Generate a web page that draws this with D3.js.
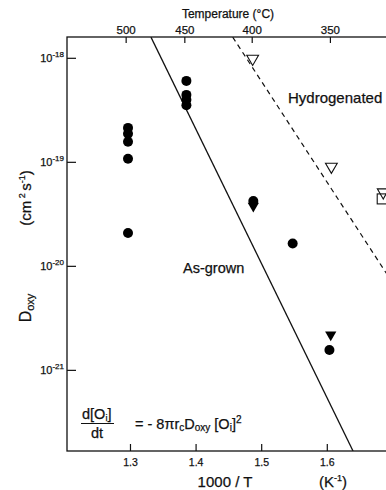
<!DOCTYPE html>
<html>
<head>
<meta charset="utf-8">
<script src="https://cdn.jsdelivr.net/npm/d3@7"></script>
<style>
  html, body { margin: 0; padding: 0; background: #fff; }
  svg { display: block; }
  text { font-family: "Liberation Sans", Arial, Helvetica, sans-serif; fill: #111; stroke: #111; stroke-width: 0.25px; }
</style>
</head>
<body>
<div id="chart"></div>
<script>
// tick labels
const xTicks = [1.3, 1.4, 1.5, 1.6];
const tempTicks = [500, 450, 400, 350];
const yExponents = [-21, -20, -19, -18];

// as-grown, filled circles (1000/T, D)
const circleX = [1.297, 1.297, 1.297, 1.297, 1.297, 1.386, 1.386, 1.386, 1.386, 1.488, 1.548, 1.604];
const circleD = [2.12e-19, 1.86e-19, 1.56e-19, 1.07e-19, 2.07e-20, 6.0e-19, 4.4e-19, 3.95e-19, 3.5e-19, 4.2e-20, 1.64e-20, 1.55e-21];

// filled triangles
const fTriX = [1.488, 1.606];
const fTriD = [3.77e-20, 2.17e-21];

// hydrogenated, open triangles
const oTriX = [1.487, 1.607, 1.686];
const oTriD = [9.8e-19, 9.0e-20, 5.1e-20];

// open square
const sqX = [1.686];
const sqD = [4.4e-20];

// fitted lines
const asGrownLine = [[1.332, 1.58e-18], [1.640, 1.66e-22]];
const hydroLine = [[1.4566, 1.58e-18], [1.70, 6.9e-21]];

const W = 386, H = 490;
const svg = d3.select('#chart').append('svg').attr('width', W).attr('height', H);

const mLeft = 67, mRight = 392.4, mTop = 37, mBottom = 451;
const x = d3.scaleLinear().domain([1.204, 1.7]).range([mLeft, mRight]);
const y = d3.scaleLog().domain([Math.pow(10, -21.78), Math.pow(10, -17.8)]).range([mBottom, mTop]);

svg.append('clipPath').attr('id', 'plot')
  .append('rect').attr('x', mLeft).attr('y', mTop).attr('width', mRight - mLeft).attr('height', mBottom - mTop);

// frame
svg.append('rect')
  .attr('x', mLeft).attr('y', mTop).attr('width', mRight - mLeft).attr('height', mBottom - mTop)
  .attr('fill', 'none').attr('stroke', '#111').attr('stroke-width', 1.3);

// bottom axis
const xAxis = svg.append('g').attr('transform', `translate(0,${mBottom})`)
  .call(d3.axisBottom(x).tickValues(xTicks).tickSize(-7).tickFormat(d3.format('.1f')));
xAxis.select('.domain').remove();
xAxis.selectAll('text').attr('dy', null).attr('y', 15).style('font-size', '10.5px').style('font-family', null);

// top axis, temperature
const topAxis = svg.append('g').attr('transform', `translate(0,${mTop})`)
  .call(d3.axisTop(x).tickValues(tempTicks.map(t => 1000 / (t + 273.15))).tickSize(-6)
    .tickFormat((d, i) => tempTicks[i]));
topAxis.select('.domain').remove();
topAxis.selectAll('text').attr('y', -3).style('font-size', '11.5px').style('font-family', null);

// left axis
const yAxis = svg.append('g').attr('transform', `translate(${mLeft},0)`)
  .call(d3.axisLeft(y).tickValues(yExponents.map(e => Math.pow(10, e))).tickSize(-9).tickFormat(''));
yAxis.select('.domain').remove();
yAxis.selectAll('.tick').each(function (d, i) {
  const t = d3.select(this).append('text')
    .attr('x', -3).attr('y', 4).attr('text-anchor', 'end').style('font-size', '11px');
  t.append('tspan').text('10');
  t.append('tspan').attr('dy', -5).style('font-size', '8px').text(yExponents[i]);
});
svg.selectAll('.tick line').attr('stroke', '#111').attr('stroke-width', 1.2);

// lines
const line = d3.line().x(d => x(d[0])).y(d => y(d[1]));
const lines = svg.append('g').attr('clip-path', 'url(#plot)');
lines.append('path').datum(asGrownLine).attr('d', line)
  .attr('fill', 'none').attr('stroke', '#111').attr('stroke-width', 1.3);
lines.append('path').datum(hydroLine).attr('d', line)
  .attr('fill', 'none').attr('stroke', '#111').attr('stroke-width', 1.2).attr('stroke-dasharray', '5,4');

// markers
const marks = svg.append('g');
const tri = d3.symbol().type(d3.symbolTriangle);
marks.selectAll('.fc').data(circleX).join('circle')
  .attr('cx', d => x(d)).attr('cy', (d, i) => y(circleD[i])).attr('r', 5).attr('fill', '#000');
marks.selectAll('.ft').data(fTriX).join('path')
  .attr('d', tri.size(55)())
  .attr('transform', (d, i) => `translate(${x(d)},${y(fTriD[i])}) rotate(180)`)
  .attr('fill', '#000');
const openMarks = svg.append('g').attr('clip-path', 'url(#plot)');
openMarks.selectAll('.ot').data(oTriX).join('path')
  .attr('d', tri.size(60)())
  .attr('transform', (d, i) => `translate(${x(d)},${y(oTriD[i])}) rotate(180)`)
  .attr('fill', '#fff').attr('stroke', '#111').attr('stroke-width', 1.1);
openMarks.selectAll('.sq').data(sqX).join('rect')
  .attr('x', d => x(d) - 6).attr('y', (d, i) => y(sqD[i]) - 5).attr('width', 12).attr('height', 10)
  .attr('fill', 'none').attr('stroke', '#111').attr('stroke-width', 1.1);

// labels
svg.append('text').attr('x', 228).attr('y', 18).attr('text-anchor', 'middle')
  .style('font-size', '12px').text('Temperature (°C)');
svg.append('text').attr('x', 288).attr('y', 103).style('font-size', '15px').text('Hydrogenated');
svg.append('text').attr('x', 183).attr('y', 273).style('font-size', '14.5px').text('As-grown');

svg.append('text').attr('x', 225).attr('y', 487).attr('text-anchor', 'middle')
  .style('font-size', '15px').text('1000 / T');
const kl = svg.append('text').attr('x', 333).attr('y', 487).attr('text-anchor', 'middle').style('font-size', '15px');
kl.append('tspan').text('(K');
kl.append('tspan').attr('dy', -6).style('font-size', '9px').text('-1');
kl.append('tspan').attr('dy', 6).text(')');

// y label
const yl = svg.append('text').attr('transform', 'translate(31,198) rotate(-90)')
  .attr('text-anchor', 'middle').style('font-size', '15px');
yl.append('tspan').text('(cm');
yl.append('tspan').attr('dy', -6).style('font-size', '9px').text(' 2 ');
yl.append('tspan').attr('dy', 6).text('s');
yl.append('tspan').attr('dy', -6).style('font-size', '9px').text('-1');
yl.append('tspan').attr('dy', 6).text(')');
const dl = svg.append('text').attr('transform', 'translate(31,308) rotate(-90)')
  .attr('text-anchor', 'middle').style('font-size', '16px');
dl.append('tspan').text('D');
dl.append('tspan').attr('dy', 3).style('font-size', '11px').text('oxy');

// equation
const eq = svg.append('g').style('font-size', '14.5px');
const num = eq.append('text').attr('x', 82).attr('y', 419);
num.append('tspan').text('d[O');
num.append('tspan').attr('dy', 2).style('font-size', '9px').text('i');
num.append('tspan').attr('dy', -2).text(']');
eq.append('line').attr('x1', 81).attr('x2', 114).attr('y1', 423.5).attr('y2', 423.5)
  .attr('stroke', '#111').attr('stroke-width', 1.2);
eq.append('text').attr('x', 97).attr('y', 438).attr('text-anchor', 'middle').text('dt');
const rhs = eq.append('text').attr('x', 135).attr('y', 429);
rhs.append('tspan').text('= - 8\u03c0r');
rhs.append('tspan').attr('dy', 2).style('font-size', '10px').text('c');
rhs.append('tspan').attr('dy', -2).text('D');
rhs.append('tspan').attr('dy', 2).style('font-size', '10px').text('oxy');
rhs.append('tspan').attr('dy', -2).text(' [O');
rhs.append('tspan').attr('dy', 2).style('font-size', '10px').text('i');
rhs.append('tspan').attr('dy', -2).text(']');
rhs.append('tspan').attr('dy', -6).style('font-size', '10px').text('2');
</script>
</body>
</html>
